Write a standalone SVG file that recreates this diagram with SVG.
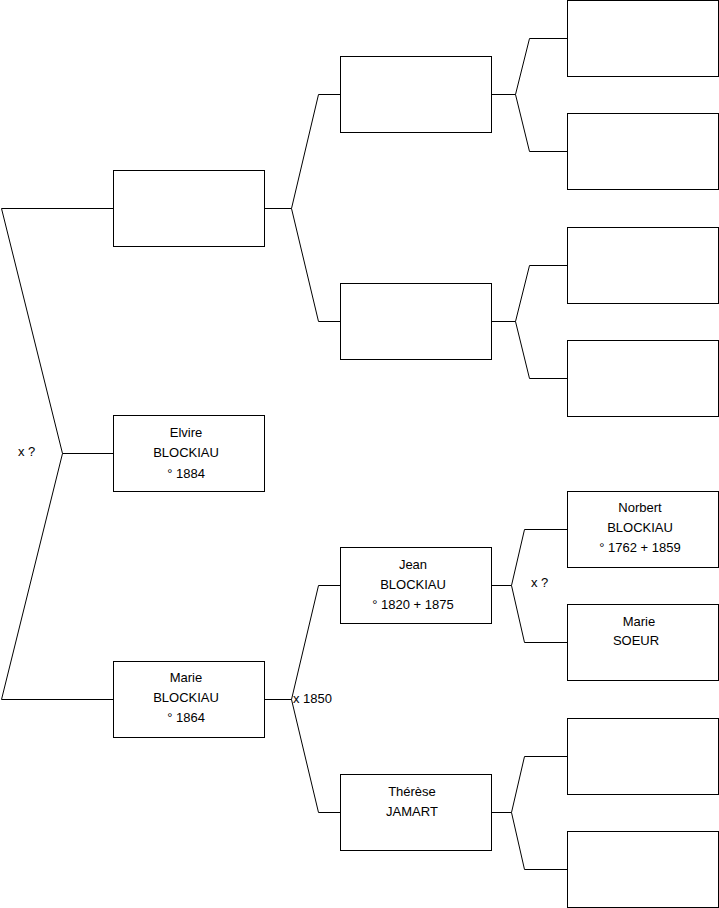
<svg xmlns="http://www.w3.org/2000/svg" width="719" height="908" viewBox="0 0 719 908">
<style>
.box{fill:#fff;stroke:#000;stroke-width:1}
.c{fill:none;stroke:#000;stroke-width:1}
text{font-family:"Liberation Sans",Arial,sans-serif;font-size:13px;fill:#000}
.t{text-anchor:middle}
</style>
<rect width="719" height="908" fill="#fff"/>
<g id="connectors">
<polyline class="c" points="113.5,208.5 1.5,208.5 62.5,453.5 1.5,699.5 113.5,699.5"/>
<line class="c" x1="62.5" y1="453.5" x2="113.5" y2="453.5"/>
<polyline class="c" points="340.5,94.5 318.5,94.5 291.5,208.5 318.5,321.5 340.5,321.5"/>
<line class="c" x1="264.5" y1="208.5" x2="291.5" y2="208.5"/>
<polyline class="c" points="340.5,585.5 318.5,585.5 291.5,699.5 318.5,812.5 340.5,812.5"/>
<line class="c" x1="264.5" y1="699.5" x2="291.5" y2="699.5"/>
<polyline class="c" points="567.5,38.5 529.5,38.5 515.5,94.5 529.5,151.5 567.5,151.5"/>
<line class="c" x1="491.5" y1="94.5" x2="515.5" y2="94.5"/>
<polyline class="c" points="567.5,265.5 529.5,265.5 515.5,321.5 529.5,378.5 567.5,378.5"/>
<line class="c" x1="491.5" y1="321.5" x2="515.5" y2="321.5"/>
<polyline class="c" points="567.5,529.5 524.5,529.5 511.5,585.5 524.5,642.5 567.5,642.5"/>
<line class="c" x1="491.5" y1="585.5" x2="511.5" y2="585.5"/>
<polyline class="c" points="567.5,756.5 524.5,756.5 511.5,812.5 524.5,869.5 567.5,869.5"/>
<line class="c" x1="491.5" y1="812.5" x2="511.5" y2="812.5"/>
<text x="18" y="456">x ?</text>
<text x="293" y="703">x 1850</text>
<text x="531" y="587">x ?</text>
</g>
<g id="n1"><rect class="box" x="113.5" y="170.5" width="151" height="76"/></g>
<g id="n2"><rect class="box" x="113.5" y="415.5" width="151" height="76"/>
<text class="t" x="186" y="437">Elvire</text><text class="t" x="186" y="457">BLOCKIAU</text><text class="t" x="186" y="478">° 1884</text></g>
<g id="n3"><rect class="box" x="113.5" y="661.5" width="151" height="76"/>
<text class="t" x="186" y="682">Marie</text><text class="t" x="186" y="702">BLOCKIAU</text><text class="t" x="186" y="722">° 1864</text></g>
<g id="n4"><rect class="box" x="340.5" y="56.5" width="151" height="76"/></g>
<g id="n5"><rect class="box" x="340.5" y="283.5" width="151" height="76"/></g>
<g id="n6"><rect class="box" x="340.5" y="547.5" width="151" height="76"/>
<text class="t" x="413" y="569">Jean</text><text class="t" x="413" y="589">BLOCKIAU</text><text class="t" x="413" y="609">° 1820 + 1875</text></g>
<g id="n7"><rect class="box" x="340.5" y="774.5" width="151" height="76"/>
<text class="t" x="412" y="796">Thérèse</text><text class="t" x="412" y="816">JAMART</text></g>
<g id="n8"><rect class="box" x="567.5" y="0.5" width="151" height="76"/></g>
<g id="n9"><rect class="box" x="567.5" y="113.5" width="151" height="76"/></g>
<g id="n10"><rect class="box" x="567.5" y="227.5" width="151" height="76"/></g>
<g id="n11"><rect class="box" x="567.5" y="340.5" width="151" height="76"/></g>
<g id="n12"><rect class="box" x="567.5" y="491.5" width="151" height="76"/>
<text class="t" x="640" y="512">Norbert</text><text class="t" x="640" y="532">BLOCKIAU</text><text class="t" x="640" y="552">° 1762 + 1859</text></g>
<g id="n13"><rect class="box" x="567.5" y="604.5" width="151" height="76"/>
<text class="t" x="639" y="626">Marie</text><text class="t" x="636" y="645">SOEUR</text></g>
<g id="n14"><rect class="box" x="567.5" y="718.5" width="151" height="76"/></g>
<g id="n15"><rect class="box" x="567.5" y="831.5" width="151" height="76"/></g>
</svg>
